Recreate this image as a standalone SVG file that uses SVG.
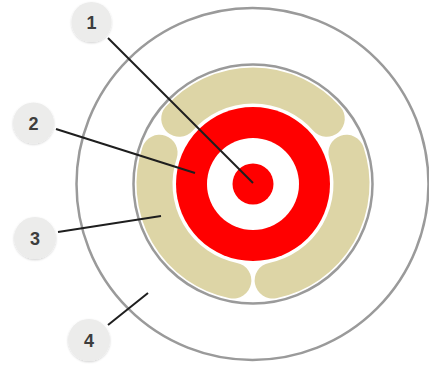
<svg xmlns="http://www.w3.org/2000/svg" width="429" height="367" viewBox="0 0 429 367">
  <defs>
    <filter id="sh" x="-30%" y="-30%" width="160%" height="160%">
      <feDropShadow dx="0" dy="1" stdDeviation="1.2" flood-color="#000" flood-opacity="0.18"/>
    </filter>
    <style>
      .ring { fill: none; stroke: #9a9a9a; stroke-width: 2.5; }
      .seg { fill: none; stroke: #ddd5a6; stroke-width: 36; stroke-linecap: round; }
      .red { fill: #ff0000; }
      .wht { fill: #ffffff; }
      .badge { fill: #ececeb; filter: url(#sh); }
      .num { font-family: "Liberation Sans", Arial, sans-serif; font-weight: bold; font-size: 18px; fill: #3d3d3d; text-anchor: middle; }
      .lead { stroke: #1e1e1e; stroke-width: 2; fill: none; }
    </style>
  </defs>
  <rect width="429" height="367" fill="#ffffff"/>
  <g id="outer-ring"><circle class="ring" cx="252.5" cy="184" r="176"/></g>
  <g id="inner-ring"><circle class="ring" cx="253" cy="184" r="119.5"/></g>
  <g id="segments">
    <path class="seg" d="M233.36,280.52 A98.5,98.5 0 0 1 159.59,152.75"/>
    <path class="seg" d="M179.22,118.73 A98.5,98.5 0 0 1 326.78,118.73"/>
    <path class="seg" d="M346.41,152.75 A98.5,98.5 0 0 1 272.64,280.52"/>
  </g>
  <g id="target">
    <circle class="red" cx="253" cy="184" r="77"/>
    <circle class="wht" cx="253" cy="184" r="46"/>
    <circle class="red" cx="253" cy="184" r="20.5"/>
  </g>
  <g id="connectors">
    <line class="lead" x1="108" y1="38" x2="253" y2="183"/>
    <line class="lead" x1="56" y1="129" x2="195" y2="173"/>
    <line class="lead" x1="58" y1="232" x2="161" y2="216"/>
    <line class="lead" x1="108" y1="325" x2="148" y2="293"/>
  </g>
  <g id="label-1"><circle class="badge" cx="91.5" cy="22" r="20"/><text class="num" x="91.5" y="28.5">1</text></g>
  <g id="label-2"><circle class="badge" cx="33.5" cy="123" r="20.5"/><text class="num" x="33.5" y="129.5">2</text></g>
  <g id="label-3"><circle class="badge" cx="35" cy="238" r="21"/><text class="num" x="35" y="244.5">3</text></g>
  <g id="label-4"><circle class="badge" cx="89" cy="340" r="21"/><text class="num" x="89" y="346.5">4</text></g>
</svg>
